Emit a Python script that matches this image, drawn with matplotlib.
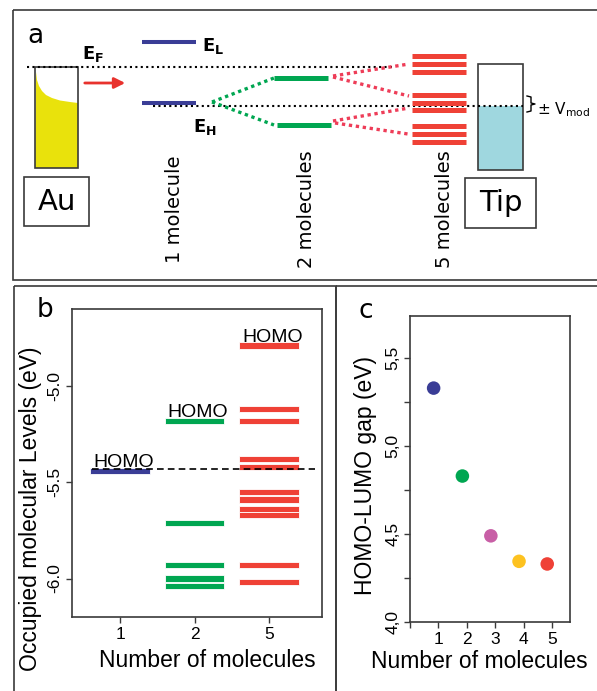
import matplotlib
matplotlib.use('Agg')
import numpy as np
import matplotlib.pyplot as plt
from matplotlib.patches import Rectangle, Polygon

plt.rcParams['font.family'] = ['Liberation Sans', 'DejaVu Sans']

# ---- panel b: occupied levels (eV) per cluster size
groups = ['1', '2', '5']
levels_1 = [-5.44]
levels_2 = [-5.18, -5.71, -5.93, -6.00, -6.04]
levels_5 = [-4.79, -5.12, -5.18, -5.38, -5.42, -5.55, -5.59, -5.64, -5.67, -5.93, -6.02]
homo_ref = -5.43

# ---- panel c: HOMO-LUMO gap
n_mol = [0.83, 1.84, 2.84, 3.83, 4.82]
gap = [5.33, 4.83, 4.49, 4.345, 4.33]

# ---- panel a: schematic levels (sketch units, y grows downward)
ef_level = 67
single = [42, 103]
dimer = [78, 125]
pentamer = [56, 64, 72, 95, 103, 110, 126, 134, 142]

BLUE = '#3a3d96'
GREEN = '#00a651'
RED = '#ef4136'
PINK = '#c85fa6'
YELLOW = '#fdc220'
DOTRED = '#ee3d58'
FRAME = '#3a3a3a'

fig = plt.figure(figsize=(5.97, 6.91), dpi=100)

# overlay in pixel coordinates for frames and the schematic
ax0 = fig.add_axes([0, 0, 1, 1])
ax0.set_xlim(0, 597)
ax0.set_ylim(691, 0)
ax0.axis('off')

for x, y, w, h in [(13, 10, 590, 270), (14, 286, 322, 410), (336, 286, 270, 410)]:
    ax0.add_patch(Rectangle((x, y), w, h, fill=False, ec=FRAME, lw=1.2))

dot = (0, (1, 1.6))
ax0.plot([27, 393], [ef_level, ef_level], color='k', lw=1.5, ls=dot)
ax0.plot([153, 523], [single[1] + 3, single[1] + 3], color='k', lw=1.5, ls=dot)

# Au electrode
curve = [(36, 72), (37, 80), (39, 86), (42, 91), (46, 95), (52, 98), (60, 100.5), (70, 102), (78, 103)]
ax0.add_patch(Polygon([(35, 168)] + curve + [(78, 168)], closed=True, fc='#e9e20c', ec='none'))
ax0.add_patch(Rectangle((35, 67), 43, 101, fill=False, ec=FRAME, lw=1.2))
ax0.add_patch(Rectangle((24, 177), 65, 49, fill=False, ec=FRAME, lw=1.2))
ax0.text(56.5, 202, 'Au', ha='center', va='center', fontsize=21, family='DejaVu Sans')

ax0.annotate('', xy=(128, 83), xytext=(82, 83),
             arrowprops=dict(arrowstyle='-|>', color='#e8322d', lw=2, mutation_scale=16))

ax0.text(82, 59, r'$\mathbf{E_F}$', fontsize=13, va='baseline')
ax0.text(202, 51, r'$\mathbf{E_L}$', fontsize=13, va='baseline')
ax0.text(193, 132, r'$\mathbf{E_H}$', fontsize=13, va='baseline')

# levels
ax0.hlines(single, 142, 196, color=BLUE, lw=2.9)
ax0.hlines(dimer, [274, 277], [328, 331], color=GREEN, lw=3.6)
ax0.hlines(pentamer, 412, 466, color=RED, lw=3.6)

sq = (0, (1, 1.1))
for y1 in dimer:
    ax0.plot([212, 274], [single[1] - 1, y1], color=GREEN, lw=2.4, ls=sq)
ax0.plot([333, 409], [dimer[0] - 2, pentamer[1]], color=DOTRED, lw=2.4, ls=sq)
ax0.plot([333, 409], [dimer[0] - 1, pentamer[3] + 1], color=DOTRED, lw=2.4, ls=sq)
ax0.plot([333, 409], [dimer[1] - 4, pentamer[4] + 5], color=DOTRED, lw=2.4, ls=sq)
ax0.plot([335, 408], [dimer[1] - 2, pentamer[7]], color=DOTRED, lw=2.4, ls=sq)

# tip
ax0.add_patch(Rectangle((478, 106), 45, 64, fc='#9fd7df', ec='none'))
ax0.add_patch(Rectangle((478, 64), 45, 106, fill=False, ec=FRAME, lw=1.2))
ax0.add_patch(Rectangle((465, 178), 71, 50, fill=False, ec=FRAME, lw=1.2))
ax0.text(500.5, 203, 'Tip', ha='center', va='center', fontsize=21, family='DejaVu Sans')
ax0.plot([527, 531, 531, 535, 531, 531, 527], [96, 97, 103, 104, 105, 111, 112], color='k', lw=1)
ax0.text(537, 114, r'$\pm$ V$_{\rm mod}$', fontsize=11, va='baseline', family='DejaVu Sans')

for xc, lab in [(175, '1 molecule'), (307, '2 molecules'), (445, '5 molecules')]:
    ax0.text(xc, 209, lab, rotation=90, ha='center', va='center', fontsize=14, family='DejaVu Sans')

ax0.text(27, 43, 'a', fontsize=19, va='baseline', family='DejaVu Sans')
ax0.text(37, 317, 'b', fontsize=19, va='baseline', family='DejaVu Sans')
ax0.text(358, 318, 'c', fontsize=19, va='baseline', family='DejaVu Sans')

# ---- panel b
axb = fig.add_axes([72 / 597, 74 / 691, 250 / 597, 308 / 691])
for i, (levels, col) in enumerate(zip([levels_1, levels_2, levels_5], [BLUE, GREEN, RED])):
    axb.barh(levels, 0.8, left=i - 0.4, height=0.032, color=col, edgecolor='white', lw=0.6)
    axb.text(i - 0.36, max(levels) + 0.017, 'HOMO', fontsize=14, va='baseline')
axb.plot([-0.38, 2.62], [homo_ref, homo_ref], color='k', lw=1.2, ls=(0, (4, 2.5)), zorder=5)
axb.set_xlim(-0.645, 2.71)
axb.set_ylim(-6.2, -4.6)
axb.set_xticks([0, 1, 2])
axb.set_xticklabels(groups)
axb.set_yticks([-6.0, -5.5, -5.0])
axb.set_yticklabels(['-6.0', '-5.5', '-5.0'], rotation=90, va='center')
axb.set_xlabel('Number of molecules', fontsize=16.5)
axb.set_ylabel('Occupied molecular Levels (eV)', fontsize=16.5)
axb.xaxis.set_label_coords(0.542, -0.105)
axb.yaxis.set_label_coords(-0.118, 0.35)

# ---- panel c
axc = fig.add_axes([410 / 597, 69 / 691, 160 / 597, 306 / 691])
axc.scatter(n_mol, gap, s=95, c=[BLUE, GREEN, PINK, YELLOW, RED], edgecolors='none', zorder=3)
axc.set_xlim(0, 5.62)
axc.set_ylim(4.0, 5.74)
axc.set_xticks(range(6))
axc.set_xticklabels(['', '1', '2', '3', '4', '5'])
axc.set_yticks([4.0, 4.5, 5.0, 5.5])
axc.set_yticklabels(['4,0', '4,5', '5,0', '5,5'], rotation=90, va='center')
axc.set_yticks([4.25, 4.75, 5.25], minor=True)
axc.set_xlabel('Number of molecules', fontsize=16.5)
axc.set_ylabel('HOMO-LUMO gap (eV)', fontsize=16.5)
axc.xaxis.set_label_coords(0.434, -0.09)
axc.yaxis.set_label_coords(-0.205, 0.48)

for ax in (axb, axc):
    for s in ax.spines.values():
        s.set_color(FRAME)
        s.set_linewidth(1.2)
    ax.tick_params(which='both', direction='out', length=4, width=1, labelsize=12.5, pad=3, color=FRAME)

fig.savefig('out.png', dpi=100)
